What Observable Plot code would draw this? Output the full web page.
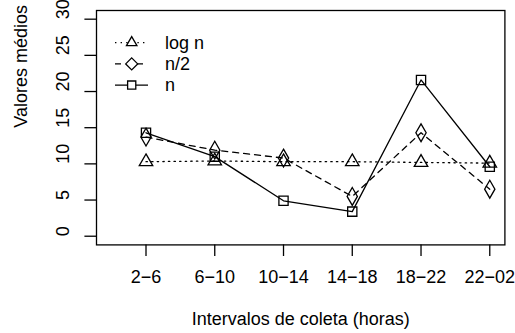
<!DOCTYPE html>
<html>
<head>
<meta charset="utf-8">
<script src="https://cdn.jsdelivr.net/npm/d3@7"></script>
<script src="https://cdn.jsdelivr.net/npm/@observablehq/plot@0.6"></script>
<style>
  html, body { margin: 0; padding: 0; background: #fff; }
  #chart svg { display: block; }
</style>
</head>
<body>
<div id="chart"></div>
<script>
// Mean values per collection interval, for three sampling sizes
const intervals = ["2−6", "6−10", "10−14", "14−18", "18−22", "22−02"];
const logN  = [10.3, 10.4, 10.3, 10.3, 10.2, 10.1];
const halfN = [13.7, 11.9, 10.8, 5.5, 14.3, 6.5];
const fullN = [14.3, 11.0, 4.9, 3.4, 21.6, 9.6];
const seriesNames = ["log n", "n/2", "n"];
const yTicks = [0, 5, 10, 15, 20, 25, 30];

const seriesValues = { "log n": logN, "n/2": halfN, "n": fullN };
const look = {
  "log n": { dash: "1.4,4.2", symbol: "triangle", r: 5.0 },
  "n/2":   { dash: "6,5",     symbol: "diamond",  r: 5.4 },
  "n":     { dash: null,      symbol: "square",   r: 5.2 }
};

const rows = seriesNames.flatMap(name =>
  seriesValues[name].map((v, i) => ({ pos: i + 1, value: v, series: name }))
);

const FONT = "'Liberation Sans', Arial, Helvetica, sans-serif";
const FS = 18;
const LW = 1.3;

const seriesMarks = seriesNames.flatMap(name => {
  const data = rows.filter(d => d.series === name);
  const s = look[name];
  return [
    Plot.line(data, { x: "pos", y: "value", stroke: "black", strokeWidth: LW,
                      strokeDasharray: s.dash ?? undefined }),
    Plot.dot(data, { x: "pos", y: "value", symbol: s.symbol, r: s.r,
                     stroke: "black", strokeWidth: LW, fill: "none" })
  ];
});

const plot = Plot.plot({
  width: 515,
  height: 333,
  marginLeft: 96,
  marginRight: 10.6,
  marginTop: 10,
  marginBottom: 88.6,
  style: { fontFamily: FONT, fontSize: FS + "px", color: "black", background: "white" },
  x: { domain: [0.28, 6.22] },
  y: { domain: [-1.2, 31.2] },
  marks: [
    Plot.frame({ stroke: "black", strokeWidth: LW }),
    Plot.axisX({ ticks: d3.range(1, intervals.length + 1), tickFormat: i => intervals[i - 1],
                 tickSize: 11.6, tickPadding: 14, strokeWidth: LW, label: null, fontSize: FS }),
    Plot.axisY({ ticks: yTicks, tickSize: 11.6, strokeWidth: LW, label: null, text: null }),
    Plot.text(yTicks, { y: d => d, text: d => String(d), frameAnchor: "left", dx: -33,
                        rotate: -90, fontSize: FS, fill: "black" }),
    Plot.text(["Intervalos de coleta (horas)"], { frameAnchor: "bottom", dy: 80, fontSize: FS, fill: "black" }),
    Plot.text(["Valores médios"], { frameAnchor: "left", dx: -75, rotate: -90, fontSize: FS, fill: "black" }),
    ...seriesMarks
  ]
});

// Legend in the upper-left corner of the panel
const svg = d3.select(plot);
const symbolType = { triangle: d3.symbolTriangle2, diamond: d3.symbolDiamond2, square: d3.symbolSquare2 };
const legend = svg.append("g").attr("font-family", FONT).attr("font-size", FS).attr("text-anchor", "start");
seriesNames.forEach((name, i) => {
  const s = look[name];
  const y = 42.7 + i * 21.2;
  const row = legend.append("g").attr("transform", `translate(0,${y})`);
  row.append("line").attr("x1", 115).attr("x2", 148).attr("y1", 0).attr("y2", 0)
    .attr("stroke", "black").attr("stroke-width", LW)
    .attr("stroke-dasharray", s.dash);
  row.append("path").attr("transform", "translate(131.7,0)")
    .attr("d", d3.symbol(symbolType[s.symbol], Math.PI * s.r * s.r)())
    .attr("fill", "white").attr("stroke", "black").attr("stroke-width", LW);
  row.append("text").attr("x", 165).attr("y", 0).attr("dy", "0.35em")
    .attr("text-anchor", "start").attr("fill", "black").text(name);
});

document.getElementById("chart").appendChild(plot);
</script>
</body>
</html>
